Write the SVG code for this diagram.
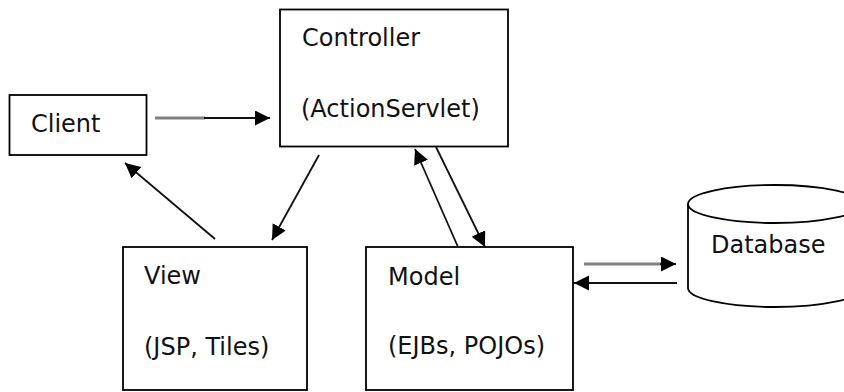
<svg xmlns="http://www.w3.org/2000/svg" width="844" height="392" viewBox="0 0 844 392">
<style>
.box{fill:#fff;stroke:#000;stroke-width:1.8}
.lbl{font-family:"DejaVu Sans","Verdana",sans-serif;font-size:24px;fill:#111}
.c{fill:none;stroke:#111;stroke-width:1.8}
.g{fill:none;stroke:#808080;stroke-width:3}
</style>
<defs>
<marker id="ah" markerUnits="userSpaceOnUse" markerWidth="18" markerHeight="18" refX="15" refY="7.5" orient="auto">
<path d="M0,0 L15,7.5 L0,15 z" fill="#000"/>
</marker>
</defs>
<rect width="844" height="392" fill="#fff"/>
<g id="client">
<rect class="box" x="9.5" y="95" width="137" height="60"/>
<text class="lbl" x="31" y="132">Client</text>
</g>
<g id="controller">
<rect class="box" x="280" y="9.5" width="228" height="137"/>
<text class="lbl" x="302" y="46">Controller</text>
<text class="lbl" x="301" y="117">(ActionServlet)</text>
</g>
<g id="view">
<rect class="box" x="123" y="247" width="184" height="143"/>
<text class="lbl" x="144" y="284">View</text>
<text class="lbl" x="144" y="355">(JSP, Tiles)</text>
</g>
<g id="model">
<rect class="box" x="366" y="247" width="207" height="143"/>
<text class="lbl" x="388" y="285">Model</text>
<text class="lbl" x="388" y="354">(EJBs, POJOs)</text>
</g>
<g id="database">
<path class="box" d="M688,204 L688,288 A87,19 0 0 0 862,288 L862,204"/>
<ellipse class="box" cx="775" cy="204" rx="87" ry="19"/>
<text class="lbl" x="711" y="253">Database</text>
</g>
<g id="connectors">
<path class="g" d="M155,118 L205,118"/>
<path class="c" d="M204,118 L270,118" marker-end="url(#ah)"/>
<path class="c" d="M215,239 L125,163" marker-end="url(#ah)"/>
<path class="c" d="M319,155 L272,240" marker-end="url(#ah)"/>
<path class="c" d="M458,247 L415,149" marker-end="url(#ah)"/>
<path class="c" d="M436,147 L485,247" marker-end="url(#ah)"/>
<path class="g" d="M584,264 L664,264"/>
<path class="c" d="M660,264 L676,264" marker-end="url(#ah)"/>
<path class="c" d="M677,283 L574,283" marker-end="url(#ah)"/>
</g>
</svg>
